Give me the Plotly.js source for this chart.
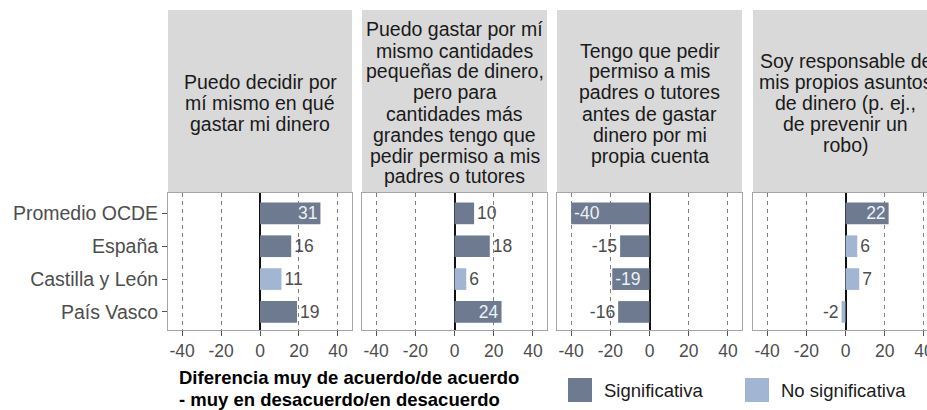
<!DOCTYPE html>
<html>
<head>
<meta charset="utf-8">
<script src="https://cdn.plot.ly/plotly-3.0.1.min.js"></script>
<style>
html,body{margin:0;padding:0;background:#fff;overflow:hidden;width:927px;height:410px;}
#chart{width:950px;height:410px;}
</style>
</head>
<body>
<div id="chart"></div>
<script>
// ---- data ----
const categories = ['Promedio OCDE', 'España', 'Castilla y León', 'País Vasco'];
const panelTitles = [
  'Puedo decidir por\nmí mismo en qué\ngastar mi dinero',
  'Puedo gastar por mí\nmismo cantidades\npequeñas de dinero,\npero para\ncantidades más\ngrandes tengo que\npedir permiso a mis\npadres o tutores',
  'Tengo que pedir\npermiso a mis\npadres o tutores\nantes de gastar\ndinero por mi\npropia cuenta',
  'Soy responsable de\nmis propios asuntos\nde dinero (p. ej.,\nde prevenir un\nrobo)'
];
const valuesDecidir     = [31, 16, 11, 19];
const valuesPequenas    = [10, 18, 6, 24];
const valuesPermiso     = [-40, -15, -19, -16];
const valuesResponsable = [22, 6, 7, -2];
const sigDecidir     = [true, true, false, true];
const sigPequenas    = [true, true, false, true];
const sigPermiso     = [true, true, true, true];
const sigResponsable = [true, false, false, false];
const xTickValues = [-40, -20, 0, 20, 40];
const legendTitle = ['Diferencia muy de acuerdo/de acuerdo', '- muy en desacuerdo/en desacuerdo'];
const legendLabels = ['Significativa', 'No significativa'];

// ---- style ----
const labelInside = [
  [true, false, false, false],
  [false, false, false, true],
  [true, false, true, false],
  [true, false, false, false]
];
const allValues = [valuesDecidir, valuesPequenas, valuesPermiso, valuesResponsable];
const allSig = [sigDecidir, sigPequenas, sigPermiso, sigResponsable];
const COL_SIG = '#6d7a8f';
const COL_NS = '#a2b5d3';
const FONT = 'Liberation Sans, Arial, sans-serif';
const W = 950, H = 410;
const px = x => x / W;
const py = y => 1 - y / H;
const panelX = [[168, 352], [362, 547], [557, 742], [753, 938]];
const plotTop = 193, plotBottom = 330, stripTop = 10;

const data = [];
const layout = {
  width: W, height: H,
  margin: {l: 0, r: 0, t: 0, b: 0},
  paper_bgcolor: '#fff', plot_bgcolor: '#fff',
  showlegend: false,
  font: {family: FONT, color: '#4d4d4d', size: 17},
  shapes: [], annotations: [],
  bargap: 0.34
};

for (let i = 0; i < 4; i++) {
  const sfx = i === 0 ? '' : String(i + 1);
  const vals = allValues[i];
  data.push({
    type: 'bar', orientation: 'h',
    x: vals, y: categories,
    xaxis: 'x' + sfx, yaxis: 'y' + sfx,
    marker: {color: allSig[i].map(s => s ? COL_SIG : COL_NS)},
    text: vals.map(v => String(v)),
    textposition: labelInside[i].map(b => b ? 'inside' : 'outside'),
    insidetextanchor: 'end',
    insidetextfont: {family: FONT, size: 17.5, color: '#eef1f6'},
    outsidetextfont: {family: FONT, size: 17.5, color: '#4d4d4d'},
    constraintext: 'none',
    cliponaxis: false,
    textangle: 0,
    hoverinfo: 'none'
  });
  const d = panelX[i];
  layout['xaxis' + sfx] = {
    domain: [px(d[0]), px(d[1])],
    anchor: 'y' + sfx,
    range: [-47.2, 47.2],
    tickvals: xTickValues,
    ticktext: xTickValues.map(String),
    ticks: 'outside', ticklen: 5, tickcolor: '#555', tickwidth: 1,
    tickfont: {family: FONT, size: 17.5, color: '#4d4d4d'},
    showgrid: true, gridcolor: '#808080', gridwidth: 1, griddash: '4px,4px',
    zeroline: true, zerolinecolor: '#111', zerolinewidth: 2,
    showline: true, mirror: true, linecolor: '#a6a6a6', linewidth: 1,
    fixedrange: true
  };
  layout['yaxis' + sfx] = {
    domain: [py(plotBottom), py(plotTop)],
    anchor: 'x' + sfx,
    type: 'category',
    categoryorder: 'array', categoryarray: categories,
    range: [3.55, -0.62],
    showticklabels: i === 0,
    ticks: i === 0 ? 'outside' : '', ticklen: 5, tickcolor: '#555',
    tickfont: {family: FONT, size: 19.5, color: '#4d4d4d'},
    showgrid: false, zeroline: false,
    showline: true, mirror: true, linecolor: '#a6a6a6', linewidth: 1,
    fixedrange: true
  };
  // strip
  layout.shapes.push({
    type: 'rect', xref: 'paper', yref: 'paper', layer: 'below',
    x0: px(d[0]), x1: px(d[1]), y0: py(plotTop), y1: py(stripTop),
    fillcolor: '#d9d9d9', line: {width: 0}
  });
  const lines = panelTitles[i].split('\n');
  const lh = 21, cy = 103;
  lines.forEach((ln, k) => {
    const y = cy + (k - (lines.length - 1) / 2) * lh;
    layout.annotations.push({
      xref: 'paper', yref: 'paper', x: px((d[0] + d[1]) / 2), y: py(y),
      xanchor: 'center', yanchor: 'middle', showarrow: false,
      text: ln, font: {family: FONT, size: 19.5, color: '#1a1a1a'}
    });
  });
}

// legend (manual)
legendTitle.forEach((t, k) => {
  layout.annotations.push({
    xref: 'paper', yref: 'paper', x: px(177), y: py(377.5 + k * 21.5),
    xanchor: 'left', yanchor: 'middle', showarrow: false,
    text: '<b>' + t + '</b>', font: {family: FONT, size: 18.5, color: '#000'}
  });
});
const keyX = [568, 745];
const keyCols = [COL_SIG, COL_NS];
legendLabels.forEach((lab, k) => {
  layout.shapes.push({
    type: 'rect', xref: 'paper', yref: 'paper',
    x0: px(keyX[k]), x1: px(keyX[k] + 24), y0: py(402), y1: py(378),
    fillcolor: keyCols[k], line: {width: 0}
  });
  layout.annotations.push({
    xref: 'paper', yref: 'paper', x: px(keyX[k] + 34), y: py(390),
    xanchor: 'left', yanchor: 'middle', showarrow: false,
    text: lab, font: {family: FONT, size: 18.5, color: '#1a1a1a'}
  });
});

Plotly.newPlot('chart', data, layout, {staticPlot: true, displayModeBar: false});
</script>
</body>
</html>
